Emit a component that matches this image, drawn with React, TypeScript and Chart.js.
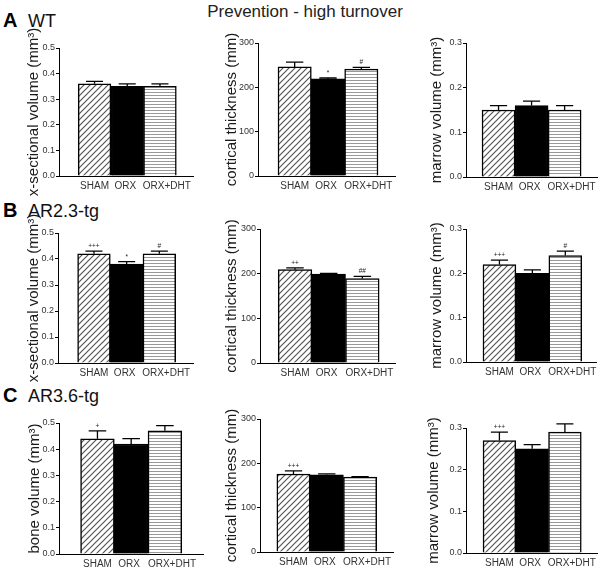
import React, { useEffect, useRef } from 'react';
import { Chart, registerables } from 'chart.js';

Chart.register(...registerables);

const FONT = '"Liberation Sans", Arial, sans-serif';

// ---- data ----
const categories = ['SHAM', 'ORX', 'ORX+DHT'];

const wtSectional = [0.36, 0.35, 0.35];
const wtSectionalErr = [0.01, 0.01, 0.01];
const wtSectionalSig = ['', '', ''];
const wtCortical = [246, 219, 241];
const wtCorticalErr = [11, 2, 4];
const wtCorticalSig = ['', '*', '#'];
const wtMarrow = [0.15, 0.16, 0.15];
const wtMarrowErr = [0.01, 0.01, 0.01];
const wtMarrowSig = ['', '', ''];

const ar23Sectional = [0.42, 0.38, 0.42];
const ar23SectionalErr = [0.01, 0.01, 0.01];
const ar23SectionalSig = ['+++', '*', '#'];
const ar23Cortical = [209, 199, 189];
const ar23CorticalErr = [4, 1.5, 5];
const ar23CorticalSig = ['++', '', '##'];
const ar23Marrow = [0.22, 0.2, 0.24];
const ar23MarrowErr = [0.01, 0.008, 0.01];
const ar23MarrowSig = ['+++', '', '#'];

const ar36Bone = [0.44, 0.42, 0.47];
const ar36BoneErr = [0.03, 0.02, 0.02];
const ar36BoneSig = ['+', '', ''];
const ar36Cortical = [176, 174, 169];
const ar36CorticalErr = [7, 2, 1];
const ar36CorticalSig = ['+++', '', ''];
const ar36Marrow = [0.27, 0.25, 0.29];
const ar36MarrowErr = [0.02, 0.01, 0.02];
const ar36MarrowSig = ['+++', '', ''];

const volumeTicks = [0, 0.1, 0.2, 0.3, 0.4, 0.5];
const thicknessTicks = [0, 100, 200, 300];
const marrowTicks = [0, 0.1, 0.2, 0.3];

const mainTitle = 'Prevention - high turnover';
const rowLetters = ['A', 'B', 'C'];
const rowGroups = ['WT', 'AR2.3-tg', 'AR3.6-tg'];

// ---- layout ----
// small horizontal nudge of the category labels (in category units), as in the original
const labelNudge = [0, -0.06, 0.21];

type Panel = {
  values: number[]; errors: number[]; marks: string[];
  ticks: number[]; decimals: number; title: string;
  canvas: number[]; area: number[]; xRange: number[]; titleX: number;
};

const panels: Panel[] = [
  { values: wtSectional, errors: wtSectionalErr, marks: wtSectionalSig, ticks: volumeTicks, decimals: 1,
    title: 'x-sectional volume (mm³)', canvas: [0, 25, 210, 175], area: [59, 48, 193, 176], xRange: [-0.086, 4.01], titleX: 34.3 },
  { values: wtCortical, errors: wtCorticalErr, marks: wtCorticalSig, ticks: thicknessTicks, decimals: 0,
    title: 'cortical thickness (mm)', canvas: [200, 25, 200, 175], area: [258, 43, 395, 176], xRange: [-0.1, 4.01], titleX: 231.5 },
  { values: wtMarrow, errors: wtMarrowErr, marks: wtMarrowSig, ticks: marrowTicks, decimals: 1,
    title: 'marrow volume (mm³)', canvas: [400, 25, 201, 175], area: [466, 43, 597, 177], xRange: [0.015, 3.98], titleX: 436.5 },

  { values: ar23Sectional, errors: ar23SectionalErr, marks: ar23SectionalSig, ticks: volumeTicks, decimals: 1,
    title: 'x-sectional volume (mm³)', canvas: [0, 205, 210, 180], area: [58, 233, 193, 363], xRange: [-0.1, 4.03], titleX: 33.8 },
  { values: ar23Cortical, errors: ar23CorticalErr, marks: ar23CorticalSig, ticks: thicknessTicks, decimals: 0,
    title: 'cortical thickness (mm)', canvas: [200, 205, 200, 180], area: [260, 229, 395, 363], xRange: [-0.04, 3.97], titleX: 232 },
  { values: ar23Marrow, errors: ar23MarrowErr, marks: ar23MarrowSig, ticks: marrowTicks, decimals: 1,
    title: 'marrow volume (mm³)', canvas: [400, 205, 201, 180], area: [466, 229, 597, 362], xRange: [-0.015, 3.95], titleX: 436.5 },

  { values: ar36Bone, errors: ar36BoneErr, marks: ar36BoneSig, ticks: volumeTicks, decimals: 1,
    title: 'bone volume (mm³)', canvas: [0, 392, 210, 176], area: [59, 423, 203, 554], xRange: [-0.14, 4.13], titleX: 34.8 },
  { values: ar36Cortical, errors: ar36CorticalErr, marks: ar36CorticalSig, ticks: thicknessTicks, decimals: 0,
    title: 'cortical thickness (mm)', canvas: [200, 392, 200, 176], area: [260, 419, 393, 552], xRange: [-0.006, 3.99], titleX: 232 },
  { values: ar36Marrow, errors: ar36MarrowErr, marks: ar36MarrowSig, ticks: marrowTicks, decimals: 1,
    title: 'marrow volume (mm³)', canvas: [400, 392, 201, 176], area: [466, 428, 597, 553], xRange: [-0.02, 3.98], titleX: 434 },
];

function makePatterns(): (CanvasPattern | string)[] {
  const d = document.createElement('canvas');
  d.width = 6; d.height = 6;
  const dc = d.getContext('2d')!;
  dc.fillStyle = '#fff'; dc.fillRect(0, 0, 6, 6);
  dc.strokeStyle = '#555'; dc.lineWidth = 1.2;
  dc.beginPath();
  dc.moveTo(-1, 7); dc.lineTo(7, -1);
  dc.moveTo(-1, 1); dc.lineTo(1, -1);
  dc.moveTo(5, 7); dc.lineTo(7, 5);
  dc.stroke();

  const h = document.createElement('canvas');
  h.width = 4; h.height = 3;
  const hc = h.getContext('2d')!;
  hc.fillStyle = '#fff'; hc.fillRect(0, 0, 4, 3);
  hc.fillStyle = '#999'; hc.fillRect(0, 1, 4, 1);

  const ctx = document.createElement('canvas').getContext('2d')!;
  return [ctx.createPattern(d, 'repeat')!, '#000', ctx.createPattern(h, 'repeat')!];
}

function makeChart(canvas: HTMLCanvasElement, p: Panel, fills: (CanvasPattern | string)[]) {
  const [cx, cy, cw, ch] = p.canvas;
  const [l, t, r, b] = p.area;

  const errorPlugin = {
    id: 'errorMarks',
    afterDatasetsDraw(chart: any) {
      const ctx = chart.ctx;
      const ys = chart.scales.y;
      const meta = chart.getDatasetMeta(0);
      meta.data.forEach((el: any, i: number) => {
        const v = p.values[i];
        const top = ys.getPixelForValue(v);
        const capY = ys.getPixelForValue(v + p.errors[i]);
        const half = el.width * 0.26;
        ctx.save();
        ctx.strokeStyle = '#000';
        ctx.lineWidth = 1.3;
        ctx.beginPath();
        ctx.moveTo(el.x, top);
        ctx.lineTo(el.x, capY);
        ctx.moveTo(el.x - half, capY);
        ctx.lineTo(el.x + half, capY);
        ctx.stroke();
        if (p.marks[i]) {
          ctx.fillStyle = '#222';
          ctx.font = `6.5px ${FONT}`;
          ctx.textAlign = 'center';
          ctx.textBaseline = 'alphabetic';
          ctx.fillText(p.marks[i], el.x, capY - 3);
        }
        ctx.restore();
      });
    },
  };

  const tickValues = categories.map((_, i) => i + 1 + labelNudge[i]);

  return new Chart(canvas, {
    type: 'bar',
    data: {
      datasets: [{
        data: p.values.map((v, i) => ({ x: i + 1, y: v })),
        backgroundColor: fills as any,
        borderColor: '#000',
        borderWidth: 1.5,
        barThickness: 'flex',
        barPercentage: 1,
        categoryPercentage: 1,
      }],
    },
    options: {
      responsive: false,
      animation: false,
      events: [],
      layout: { padding: { left: 0, top: t - cy, right: cx + cw - r, bottom: 0 } },
      plugins: { legend: { display: false }, tooltip: { enabled: false } },
      scales: {
        x: {
          type: 'linear',
          offset: false,
          min: p.xRange[0],
          max: p.xRange[1],
          afterBuildTicks: (s: any) => { s.ticks = tickValues.map((v) => ({ value: v })); },
          afterFit: (s: any) => { s.height = cy + ch - b; },
          grid: { display: false, drawTicks: false, offset: false },
          border: { display: true, color: '#000', width: 1 },
          ticks: {
            callback: (_v: any, i: number) => categories[i] ?? '',
            font: { family: FONT, size: 10 },
            color: '#333',
            padding: 4,
            maxRotation: 0,
            autoSkip: false,
          },
        },
        y: {
          min: 0,
          max: p.ticks[p.ticks.length - 1],
          afterBuildTicks: (s: any) => { s.ticks = p.ticks.map((v) => ({ value: v })); },
          afterFit: (s: any) => { s.width = l - cx; },
          grid: { drawOnChartArea: false, drawTicks: true, tickLength: 3, color: '#000', lineWidth: 1 },
          border: { color: '#000', width: 1 },
          ticks: {
            callback: (v: any) => Number(v).toFixed(p.decimals),
            font: { family: FONT, size: 9 },
            color: '#333',
            padding: 1,
          },
          title: {
            display: true,
            text: p.title,
            font: { family: FONT, size: 15 },
            color: '#1a1a1a',
            padding: { top: p.titleX - cx - 9, bottom: 0 },
          },
        },
      },
    },
    plugins: [errorPlugin],
  } as any);
}

export default function App() {
  const refs = useRef<(HTMLCanvasElement | null)[]>([]);

  useEffect(() => {
    const fills = makePatterns();
    const charts = panels.map((p, i) => makeChart(refs.current[i]!, p, fills));
    return () => charts.forEach((c) => c.destroy());
  }, []);

  const text = (s: string, left: number, top: number, size: number, bold = false, extra: any = {}) => (
    <span
      style={{
        position: 'absolute', left, top, fontFamily: FONT, fontSize: size, lineHeight: 1,
        fontWeight: bold ? 'bold' : 'normal', whiteSpace: 'nowrap', color: '#111', ...extra,
      }}
    >
      {s}
    </span>
  );

  const rowBase = [27, 216.7, 401.7];

  return (
    <div style={{ position: 'absolute', left: 0, top: 0, width: 601, height: 568, background: '#fff', overflow: 'hidden' }}>
      {text(mainTitle, 305, 2.6, 17, false, { transform: 'translateX(-50%)', color: '#222' })}
      {rowLetters.map((L, i) => (
        <React.Fragment key={L}>
          {text(L, 3, rowBase[i] - 16.9, 20, true, { color: '#000' })}
          {text(rowGroups[i], 28, rowBase[i] - 15.2, 18)}
        </React.Fragment>
      ))}
      {panels.map((p, i) => (
        <canvas
          key={i}
          ref={(el) => { refs.current[i] = el; }}
          width={p.canvas[2]}
          height={p.canvas[3]}
          style={{ position: 'absolute', left: p.canvas[0], top: p.canvas[1], width: p.canvas[2], height: p.canvas[3] }}
        />
      ))}
    </div>
  );
}
